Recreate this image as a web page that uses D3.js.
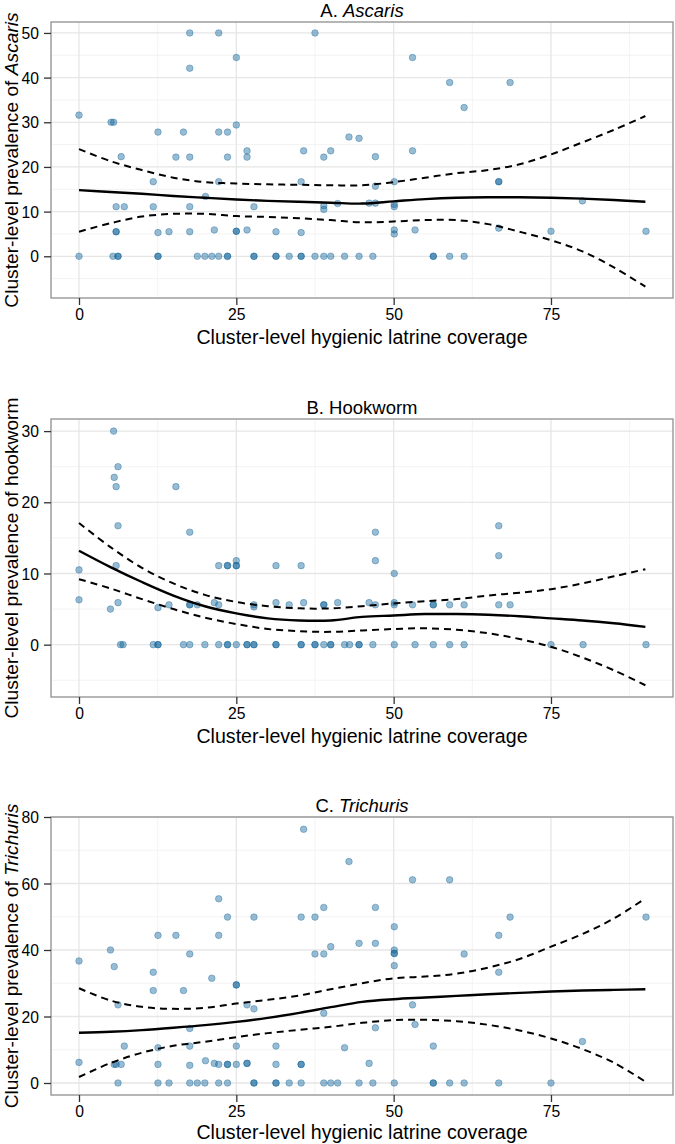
<!DOCTYPE html>
<html><head><meta charset="utf-8">
<script src="https://cdn.jsdelivr.net/npm/d3@7"></script>
<style>
body{margin:0;background:#fff}
svg text{font-family:"Liberation Sans",Arial,Helvetica,sans-serif}
</style>
</head><body>
<svg id="chart" width="675" height="1144"></svg>
<script>
// ---------------- DATA ----------------
const xTicks = [0, 25, 50, 75];
const xMinorTicks = [12.5, 37.5, 62.5, 87.5];
const xTitle = "Cluster-level hygienic latrine coverage";
const smoothX = [0,5,10,15,20,25,30,35,40,45,50,55,60,65,70,75,80,85,90];

// A. Ascaris
const ascarisPoints = [
 [0,0],[5.4,0],[6.2,0],[6.2,0],[12.55,0],[12.55,0],[18.8,0],[20,0],[21.1,0],[22.2,0],[23.6,0],[23.6,0],
 [27.8,0],[27.8,0],[31.3,0],[31.3,0],[33.4,0],[35.3,0],[35.3,0],[37.5,0],[38.9,0],[40,0],[42.2,0],[44.5,0],
 [46.7,0],[56.3,0],[56.3,0],[58.9,0],[61.2,0],
 [5.9,5.5],[5.9,5.5],[12.55,5.3],[14.3,5.5],[17.6,5.5],[21.5,5.9],[25,5.6],[25,5.6],[26.7,5.9],[31.3,5.5],
 [35.3,5.3],[50.1,5.9],[50.1,5.0],[53.4,5.9],[66.7,6.3],[75,5.6],[90.1,5.6],
 [5.9,11.1],[7.2,11.1],[11.8,11.1],[17.6,11.1],[27.8,11.1],[38.9,11.3],[38.9,10.5],[41.1,11.8],[46.1,11.9],
 [47.1,11.9],[50.1,11.6],[50.1,11.1],[80,12.4],[20.1,13.4],
 [11.8,16.7],[22.2,16.7],[35.3,16.7],[47.1,15.7],[50.1,16.7],[66.7,16.7],[66.7,16.7],
 [6.7,22.3],[15.4,22.2],[17.6,22.2],[23.6,22.2],[26.7,22.2],[38.9,22.2],[47.1,22.3],[26.7,23.6],[35.7,23.6],
 [40,23.6],[53,23.6],
 [12.55,27.8],[16.6,27.8],[22.2,27.8],[23.6,27.8],[25,29.4],[42.9,26.7],[44.5,26.4],
 [0,31.6],[5.1,30],[5.5,30],
 [17.6,42.1],[17.6,50],[22.2,50],[25,44.5],[37.5,50],[53,44.5],[58.9,38.9],[68.5,38.9],[61.2,33.3]
];
const ascarisFit   = [14.8,14.4,14.0,13.5,13.1,12.7,12.4,12.2,12.0,11.8,12.3,12.8,13.1,13.2,13.2,13.1,12.9,12.6,12.2];
const ascarisUpper = [24.0,21.3,19.3,17.6,16.6,16.3,16.1,16.0,15.9,15.9,16.6,17.6,18.6,19.3,20.6,22.8,25.5,28.3,31.4];
const ascarisLower = [5.5,7.4,8.9,9.5,9.5,9.0,8.8,8.5,8.1,7.6,7.8,8.1,8.1,7.2,5.5,3.6,1.1,-2.5,-6.8];
const ascarisYTicks = [0,10,20,30,40,50];
const ascarisYMinor = [-5,5,15,25,35,45];

// B. Hookworm
const hookwormPoints = [
 [6.6,0],[7.0,0],[11.8,0],[12.55,0],[12.55,0],[16.6,0],[17.6,0],[20,0],[22.2,0],[23.6,0],[23.6,0],[25,0],
 [26.7,0],[26.7,0],[27.8,0],[27.8,0],[31.3,0],[31.3,0],[35.3,0],[35.3,0],[37.5,0],[37.5,0],[38.9,0],[40,0],
 [40,0],[42.2,0],[43,0],[44.5,0],[44.5,0],[46.7,0],[50.1,0],[53.4,0],[56.3,0],[58.9,0],[61.2,0],[75,0],
 [80.1,0],[90.1,0],
 [0,6.3],[5.0,5.0],[6.2,5.9],[12.55,5.2],[14.3,5.6],[17.6,5.6],[17.6,5.6],[18.8,5.6],[21.5,5.9],[22.2,5.6],
 [27.8,5.6],[27.8,5.3],[31.3,5.9],[33.4,5.6],[35.7,5.9],[38.9,5.6],[38.9,5.6],[41.1,5.9],[46.1,5.9],[47.1,5.6],
 [50.1,5.9],[50.1,5.6],[53,5.6],[56.3,5.6],[56.3,5.6],[58.9,5.6],[61.2,5.6],[66.7,5.6],[68.5,5.6],
 [0,10.5],[5.9,11.1],[22.2,11.1],[23.6,11.1],[23.6,11.1],[25,11.8],[25,11.1],[25,11.1],[31.3,11.1],
 [35.3,11.1],[47.1,11.8],[50.1,10.0],[66.7,12.5],
 [5.5,30],[6.2,25],[5.6,23.5],[5.9,22.2],[15.4,22.2],[6.2,16.7],[17.6,15.8],[47.1,15.8],[66.7,16.7]
];
const hookwormFit   = [13.2,10.9,8.8,6.9,5.4,4.4,3.7,3.4,3.4,3.9,4.1,4.3,4.3,4.2,4.0,3.7,3.4,3.0,2.5];
const hookwormUpper = [17.1,13.7,10.8,8.6,7.0,6.0,5.4,5.1,5.1,5.4,5.8,6.1,6.4,6.9,7.3,7.8,8.6,9.6,10.6];
const hookwormLower = [9.2,7.9,6.4,5.0,3.8,2.9,2.2,1.9,1.8,2.0,2.2,2.3,2.1,1.6,0.8,-0.3,-1.8,-3.6,-5.7];
const hookwormYTicks = [0,10,20,30];
const hookwormYMinor = [-5,5,15,25];

// C. Trichuris
const trichurisPoints = [
 [6.2,0],[12.55,0],[14.3,0],[17.6,0],[18.8,0],[20,0],[22.2,0],[23.6,0],[27.8,0],[27.8,0],[31.3,0],[31.3,0],
 [33.4,0],[35.3,0],[38.9,0],[40,0],[41.1,0],[44.5,0],[46.7,0],[50.1,0],[56.3,0],[56.3,0],[58.9,0],[61.2,0],
 [66.7,0],[75,0],
 [0,6.2],[5.6,5.6],[5.9,5.6],[6.7,5.6],[12.55,5.6],[17.6,5.3],[20.1,6.7],[21.5,5.9],[22.2,5.6],[23.6,5.6],
 [23.6,5.6],[25,5.6],[26.7,5.9],[26.7,5.9],[31.3,5.6],[35.3,5.6],[35.3,5.6],[46.1,5.9],
 [7.2,11.1],[12.55,10.6],[17.6,11.1],[25,11.1],[31.3,11.1],[42.2,10.6],[56.3,11.1],[80,12.5],
 [17.6,16.4],[47.1,16.6],[53.4,17.6],[38.9,21.0],[27.8,22.3],[6.2,23.5],[26.7,23.5],[53,23.5],
 [25,29.5],[25,29.5],[11.8,27.8],[16.6,27.8],[21.1,31.5],[11.8,33.3],[66.7,33.3],[5.6,35.0],[50.1,35.3],[0,36.7],
 [17.6,38.8],[37.5,38.8],[38.9,38.8],[40,41.0],[5.0,40.0],[44.5,42.0],[47.1,42.0],[50.1,40.0],[50.1,39.0],
 [50.1,38.9],[61.2,38.8],
 [12.55,44.4],[15.4,44.4],[22.2,44.4],[66.7,44.4],[50.1,47.0],[23.6,49.9],[27.8,49.9],[35.3,49.9],[37.5,49.9],
 [68.5,49.9],[90.1,49.9],[38.9,52.8],[47.1,52.8],[22.2,55.4],
 [53,61.1],[58.9,61.1],[42.9,66.6],[35.7,76.3]
];
const trichurisFit   = [15.1,15.4,15.9,16.6,17.4,18.4,19.6,21.1,22.8,24.4,25.2,25.7,26.2,26.7,27.1,27.5,27.8,28.0,28.2];
const trichurisUpper = [28.5,24.8,22.9,22.3,22.6,23.9,25.0,26.3,28.2,30.0,31.5,32.0,32.9,34.7,37.3,41.0,44.8,49.5,55.5];
const trichurisLower = [1.8,6.0,9.1,11.2,12.4,13.8,15.0,16.0,16.9,18.1,18.9,19.0,18.6,17.5,15.8,13.4,10.2,6.1,0.4];
const trichurisYTicks = [0,20,40,60,80];
const trichurisYMinor = [10,30,50,70];

// ---------------- LAYOUT ----------------
const svg = d3.select("#chart");
const left = 51, right = 673;
const x = d3.scaleLinear().domain([-4.449, 94.39]).range([left, right]);
const pointColor = "#0a5f96";

const panels = [
  {title:[["A. ",false],["Ascaris",true]], ytitle:[["Cluster-level prevalence of ",false],["Ascaris",true]],
   pts:ascarisPoints, fit:ascarisFit, up:ascarisUpper, lo:ascarisLower, yt:ascarisYTicks, ym:ascarisYMinor,
   dom:[-9.34,52.45], top:22, bottom:298, xt:46},
  {title:[["B. Hookworm",false]], ytitle:[["Cluster-level prevalence of hookworm",false]],
   pts:hookwormPoints, fit:hookwormFit, up:hookwormUpper, lo:hookwormLower, yt:hookwormYTicks, ym:hookwormYMinor,
   dom:[-7.35,31.70], top:419, bottom:697, xt:46},
  {title:[["C. ",false],["Trichuris",true]], ytitle:[["Cluster-level prevalence of ",false],["Trichuris",true]],
   pts:trichurisPoints, fit:trichurisFit, up:trichurisUpper, lo:trichurisLower, yt:trichurisYTicks, ym:trichurisYMinor,
   dom:[-3.61,80.0], top:817, bottom:1095, xt:44}
];

panels.forEach(p => {
  const y = d3.scaleLinear().domain(p.dom).range([p.bottom, p.top]);
  const g = svg.append("g");
  // minor grid
  g.selectAll(".vmin").data(xMinorTicks).join("line")
    .attr("x1", d=>x(d)).attr("x2", d=>x(d)).attr("y1", p.top).attr("y2", p.bottom)
    .attr("stroke", "#f3f3f3").attr("stroke-width", 1);
  g.selectAll(".hmin").data(p.ym).join("line")
    .attr("y1", d=>y(d)).attr("y2", d=>y(d)).attr("x1", left).attr("x2", right)
    .attr("stroke", "#f3f3f3").attr("stroke-width", 1);
  // major grid
  g.selectAll(".vmaj").data(xTicks).join("line")
    .attr("x1", d=>x(d)).attr("x2", d=>x(d)).attr("y1", p.top).attr("y2", p.bottom)
    .attr("stroke", "#e6e6e6").attr("stroke-width", 1.3);
  g.selectAll(".hmaj").data(p.yt).join("line")
    .attr("y1", d=>y(d)).attr("y2", d=>y(d)).attr("x1", left).attr("x2", right)
    .attr("stroke", "#e6e6e6").attr("stroke-width", 1.3);

  // points
  g.selectAll("circle").data(p.pts).join("circle")
    .attr("cx", d=>x(d[0])).attr("cy", d=>y(d[1])).attr("r", 3.3)
    .attr("fill", pointColor).attr("fill-opacity", 0.42)
    .attr("stroke", pointColor).attr("stroke-opacity", 0.35).attr("stroke-width", 1);

  // smooth lines
  const mk = arr => d3.line().x((d,i)=>x(smoothX[i])).y(d=>y(d)).curve(d3.curveCatmullRom)(arr);
  g.append("path").attr("d", mk(p.up)).attr("fill","none").attr("stroke","#000")
    .attr("stroke-width",2).attr("stroke-dasharray","7,5");
  g.append("path").attr("d", mk(p.lo)).attr("fill","none").attr("stroke","#000")
    .attr("stroke-width",2).attr("stroke-dasharray","7,5");
  g.append("path").attr("d", mk(p.fit)).attr("fill","none").attr("stroke","#000")
    .attr("stroke-width",2.4);

  // border
  g.append("rect").attr("x", left).attr("y", p.top).attr("width", right-left).attr("height", p.bottom-p.top)
    .attr("fill","none").attr("stroke","#8f8f8f").attr("stroke-width",1.3);

  // axes
  const ax = g.append("g").attr("transform", `translate(0,${p.bottom})`)
    .call(d3.axisBottom(x).tickValues(xTicks).tickSize(7).tickPadding(4).tickFormat(d3.format("d")));
  const ay = g.append("g").attr("transform", `translate(${left},0)`)
    .call(d3.axisLeft(y).tickValues(p.yt).tickSize(7).tickPadding(5).tickFormat(d3.format("d")));
  [ax, ay].forEach(a => {
    a.select(".domain").remove();
    a.selectAll(".tick line").attr("stroke","#333").attr("stroke-width",1.3);
    a.selectAll(".tick text").attr("fill","#000").style("font-size","15.7px")
      .style("font-family",'"Liberation Sans",Arial,Helvetica,sans-serif');
  });
  ay.selectAll(".tick text").attr("dy","0.36em");

  // titles
  const t = svg.append("text").attr("x", (left+right)/2).attr("y", p.top-5)
    .attr("text-anchor","middle").style("font-size","18.5px").attr("fill","#000");
  p.title.forEach(([s,it]) => t.append("tspan").text(s).style("font-style", it?"italic":"normal"));

  svg.append("text").attr("x", (left+right)/2).attr("y", p.bottom+p.xt)
    .attr("text-anchor","middle").style("font-size","19.6px").attr("fill","#000").text(xTitle);

  const cy = (p.top+p.bottom)/2;
  const yt = svg.append("text").attr("transform", `translate(17.5,${cy}) rotate(-90)`)
    .attr("text-anchor","middle").style("font-size","19.2px").attr("fill","#000");
  p.ytitle.forEach(([s,it]) => yt.append("tspan").text(s).style("font-style", it?"italic":"normal"));
});
</script>
</body></html>
